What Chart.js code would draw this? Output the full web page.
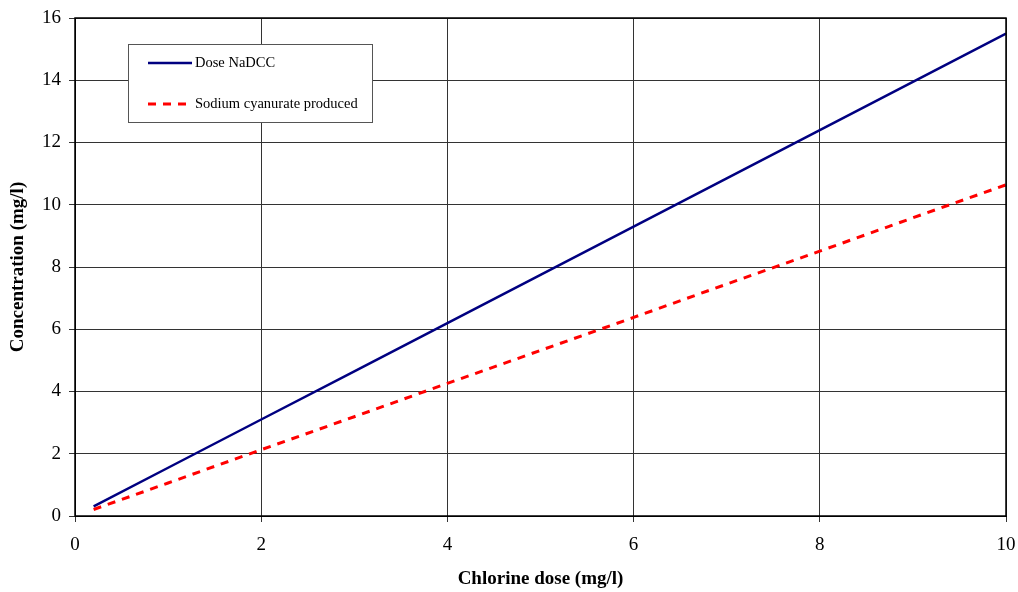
<!DOCTYPE html>
<html>
<head>
<meta charset="utf-8">
<script src="https://cdn.jsdelivr.net/npm/chart.js@4.4.0/dist/chart.umd.min.js"></script>
<style>
  html, body { margin: 0; padding: 0; background: #fff; }
  #wrap { width: 1018px; height: 592px; }
</style>
</head>
<body>
<div id="wrap"><canvas id="doseChart"></canvas></div>
<script>
// chlorine dose (mg/l)
let chlorineDose = [0.2, 1, 2, 3, 4, 5, 6, 7, 8, 9, 10];
// concentrations (mg/l)
let doseNaDCC = [0.31, 1.55, 3.1, 4.65, 6.2, 7.75, 9.3, 10.85, 12.4, 13.95, 15.5];
let cyanurateProduced = [0.21, 1.06, 2.13, 3.19, 4.26, 5.32, 6.38, 7.45, 8.51, 9.58, 10.64];
let xTicks = [0, 2, 4, 6, 8, 10];
let yTicks = [0, 2, 4, 6, 8, 10, 12, 14, 16];

let serif = '"Liberation Serif", "Times New Roman", serif';

function toPoints(xs, ys) {
    return xs.map((x, i) => ({ x: x, y: ys[i] }));
}

// legend box drawn inside the plot area, like the original
let boxLegend = {
    id: 'boxLegend',
    afterDraw(chart) {
        let ctx = chart.ctx;
        let left = 128, top = 44, w = 244, h = 78;
        ctx.save();
        ctx.fillStyle = '#fff';
        ctx.fillRect(left, top, w, h);
        ctx.strokeStyle = '#555';
        ctx.lineWidth = 1;
        ctx.strokeRect(left + 0.5, top + 0.5, w, h);

        ctx.font = '14.5px ' + serif;
        ctx.fillStyle = '#000';
        ctx.textBaseline = 'middle';
        chart.data.datasets.forEach((ds, i) => {
            let y = top + 19 + i * 41;
            ctx.beginPath();
            ctx.strokeStyle = ds.borderColor;
            ctx.lineWidth = ds.borderWidth;
            ctx.setLineDash(ds.borderDash || []);
            ctx.moveTo(148, y);
            ctx.lineTo(192, y);
            ctx.stroke();
            ctx.setLineDash([]);
            ctx.fillText(ds.label, 195, y);
        });
        ctx.restore();
    }
};

new Chart(document.getElementById('doseChart'), {
    type: 'line',
    data: {
        datasets: [{
            label: 'Dose NaDCC',
            data: toPoints(chlorineDose, doseNaDCC),
            borderColor: '#000080',
            borderWidth: 2.5,
            pointRadius: 0,
            tension: 0
        }, {
            label: 'Sodium cyanurate produced',
            data: toPoints(chlorineDose, cyanurateProduced),
            borderColor: '#ff0000',
            borderWidth: 3,
            borderDash: [8, 7],
            pointRadius: 0,
            tension: 0
        }]
    },
    options: {
        responsive: true,
        maintainAspectRatio: false,
        animation: false,
        layout: { padding: { top: 18, right: 12, left: 0, bottom: 0 } },
        plugins: {
            legend: { display: false },
            tooltip: { enabled: false }
        },
        scales: {
            x: {
                type: 'linear',
                min: 0,
                max: 10,
                afterFit(scale) {
                    scale.height = 76;
                    scale.paddingLeft = 0;
                    scale.paddingRight = 0;
                },
                afterBuildTicks(scale) { scale.ticks = xTicks.map(v => ({ value: v })); },
                ticks: {
                    color: '#000',
                    font: { family: serif, size: 19 },
                    padding: 12,
                    maxRotation: 0
                },
                grid: { color: '#333', lineWidth: 1, tickLength: 6 },
                border: { color: '#000', width: 1 },
                title: {
                    display: true,
                    text: 'Chlorine dose (mg/l)',
                    color: '#000',
                    font: { family: serif, size: 19, weight: 'bold' },
                    padding: { top: 8, bottom: 2 }
                }
            },
            y: {
                min: 0,
                max: 16,
                afterFit(scale) {
                    scale.width = 75;
                    scale.paddingTop = 0;
                    scale.paddingBottom = 0;
                },
                afterBuildTicks(scale) { scale.ticks = yTicks.map(v => ({ value: v })); },
                ticks: {
                    color: '#000',
                    font: { family: serif, size: 19 },
                    padding: 8
                },
                grid: { color: '#333', lineWidth: 1, tickLength: 6 },
                border: { color: '#000', width: 1 },
                title: {
                    display: true,
                    text: 'Concentration (mg/l)',
                    color: '#000',
                    font: { family: serif, size: 19, weight: 'bold' },
                    padding: { top: 7, bottom: 4 }
                }
            }
        }
    },
    plugins: [boxLegend, {
        // frame round the plot area
        id: 'frame',
        afterDraw(chart) {
            let a = chart.chartArea, ctx = chart.ctx;
            ctx.save();
            ctx.strokeStyle = '#000';
            ctx.lineWidth = 1.5;
            ctx.strokeRect(a.left, a.top, a.right - a.left, a.bottom - a.top);
            ctx.restore();
        }
    }]
});
</script>
</body>
</html>
